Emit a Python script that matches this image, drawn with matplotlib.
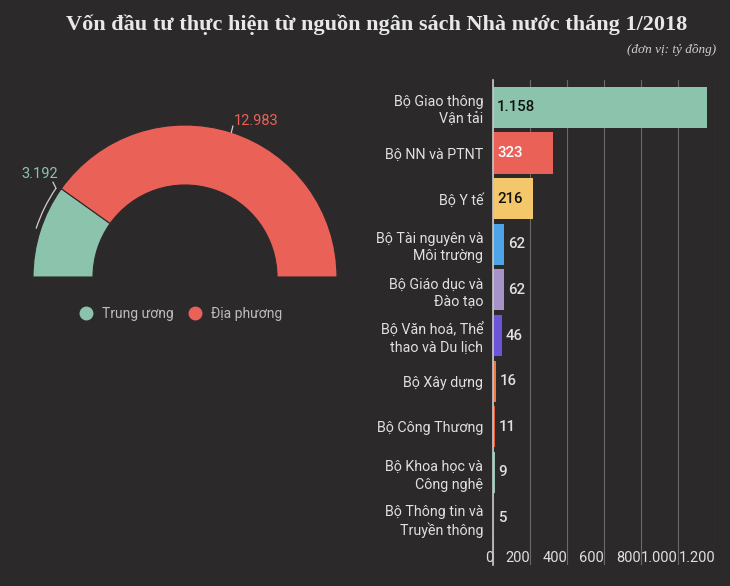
import numpy as np
import matplotlib.pyplot as plt
from matplotlib.patches import Arc
from matplotlib.lines import Line2D

# data
regions = ['Trung ương', 'Địa phương']
region_vals = [3192, 12983]
region_labels = ['3.192', '12.983']
region_colors = ['#8cc3ad', '#ea6158']

ministries = ['Bộ Giao thông\nVận tải', 'Bộ NN và PTNT', 'Bộ Y tế',
              'Bộ Tài nguyên và\nMôi trường', 'Bộ Giáo dục và\nĐào tạo',
              'Bộ Văn hoá, Thể\nthao và Du lịch', 'Bộ Xây dựng',
              'Bộ Công Thương', 'Bộ Khoa học và\nCông nghệ',
              'Bộ Thông tin và\nTruyền thông']
ministry_vals = [1158, 323, 216, 62, 62, 46, 16, 11, 9, 5]
ministry_labels = ['1.158', '323', '216', '62', '62', '46', '16', '11', '9', '5']
bar_colors = ['#8cc3ad', '#ea6158', '#f5c76b', '#4ea4e6', '#a893c9',
              '#6c55db', '#f2763f', '#e85a2a', '#8fc4b4', '#7a2a35']
inside = [True, True, True, False, False, False, False, False, False, False]
inside_colors = ['#111111', '#ffffff', '#111111']
x_ticks = [0, 200, 400, 600, 800, 1000, 1200]
x_ticklabels = ['0', '200', '400', '600', '800', '1.000', '1.200']

bg = '#2b292a'
txt = '#e0e0e0'
W, H = 730, 586

plt.rcParams['font.family'] = ['Roboto', 'DejaVu Sans']

fig = plt.figure(figsize=(7.3, 5.86), dpi=100)
fig.set_facecolor(bg)

fig.text(377 / W, 1 - 25 / H, 'Vốn đầu tư thực hiện từ nguồn ngân sách Nhà nước tháng 1/2018',
         family='Liberation Serif', fontweight='bold', fontsize=16,
         color='#e8e8e8', ha='center', va='center')
fig.text(716 / W, 1 - 50 / H, '(đơn vị: tỷ đồng)', family='Liberation Serif',
         style='italic', fontsize=9.5, color='#d0d0d0', ha='right', va='center')

# ---- half donut ----
cx, cy, R = 185, 277, 152
box = 170
ax1 = fig.add_axes([(cx - box) / W, (H - cy - box) / H, 2 * box / W, 2 * box / H])
ax1.set_facecolor(bg)
total = sum(region_vals)
wedges, _ = ax1.pie(region_vals + [total], colors=region_colors + ['none'],
                    startangle=180, counterclock=False, radius=1,
                    wedgeprops=dict(width=60 / R, edgecolor=bg, linewidth=0.8))
wedges[2].set_edgecolor('none')
ax1.axis('off')
lim = box / R
ax1.set_xlim(-lim, lim)
ax1.set_ylim(-lim, lim)

# labels with leaders
a_split = 180 - 180 * region_vals[0] / total
ax1.add_patch(Arc((0, 0), 2 * 1.03, 2 * 1.03, theta1=a_split + 1, theta2=162,
                  color='#cfcfcf', lw=0.9))
p = np.radians(a_split + 1)
ax1.plot([1.03 * np.cos(p), 1.03 * np.cos(p) - 0.02], [1.03 * np.sin(p), 1.03 * np.sin(p) + 0.04],
         color='#cfcfcf', lw=0.9)
ax1.text(-145 / R, (277 - 174) / R, region_labels[0], color=region_colors[0],
         fontsize=10.5, ha='center', va='center')
m = np.radians(a_split / 2)
ax1.plot([np.cos(m), np.cos(m) + 0.01], [np.sin(m), np.sin(m) + 0.04],
         color='#cfcfcf', lw=0.9)
ax1.text((256 - cx) / R, (277 - 121) / R, region_labels[1], color=region_colors[1],
         fontsize=10.5, ha='center', va='center')

handles = [Line2D([], [], marker='o', ls='none', markersize=9,
                  markerfacecolor=c, markeredgecolor=c) for c in region_colors]
leg = fig.legend(handles, regions, loc='center', bbox_to_anchor=(180 / W, 1 - 314 / H),
                 ncol=2, frameon=False, fontsize=10, labelcolor='#bdbdbd',
                 handletextpad=0.55, columnspacing=0.9, handlelength=1.2)

# ---- bar chart ----
ax = fig.add_axes([493 / W, 1 - 565 / H, (715 - 493) / W, (565 - 80) / H])
ax.set_facecolor(bg)
y = np.arange(len(ministries))
ax.barh(y, ministry_vals, height=0.9, color=bar_colors, zorder=2)
ax.set_xlim(0, 1200)
ax.set_ylim(9 + 1.03, -0.6)
ax.set_yticks(y)
ax.set_yticklabels(ministries, color=txt, fontsize=10.3, linespacing=1.33)
ax.set_xticks(x_ticks)
ax.set_xticklabels(x_ticklabels, color=txt, fontsize=10.5)
for lab in ax.get_xticklabels():
    lab.set_ha('right')
ax.tick_params(axis='y', length=0, pad=7)
ax.tick_params(axis='x', length=0, pad=-10)
ax.grid(axis='x', color='#6a6a6a', lw=0.8, zorder=0)
for s in ['top', 'right', 'bottom']:
    ax.spines[s].set_visible(False)
ax.spines['left'].set_color('#c8c8c8')
ax.spines['left'].set_linewidth(1.2)
ax.spines['left'].set_zorder(3)

for i, v in enumerate(ministry_vals):
    if inside[i]:
        ax.text(22, i, ministry_labels[i], color=inside_colors[i], fontsize=10.8,
                fontweight='medium', va='center', ha='left', zorder=4)
    else:
        ax.text(v + 22, i, ministry_labels[i], color=txt, fontsize=10.8,
                fontweight='medium', va='center', ha='left', zorder=4)

fig.savefig('out.png', dpi=100, facecolor=bg)
